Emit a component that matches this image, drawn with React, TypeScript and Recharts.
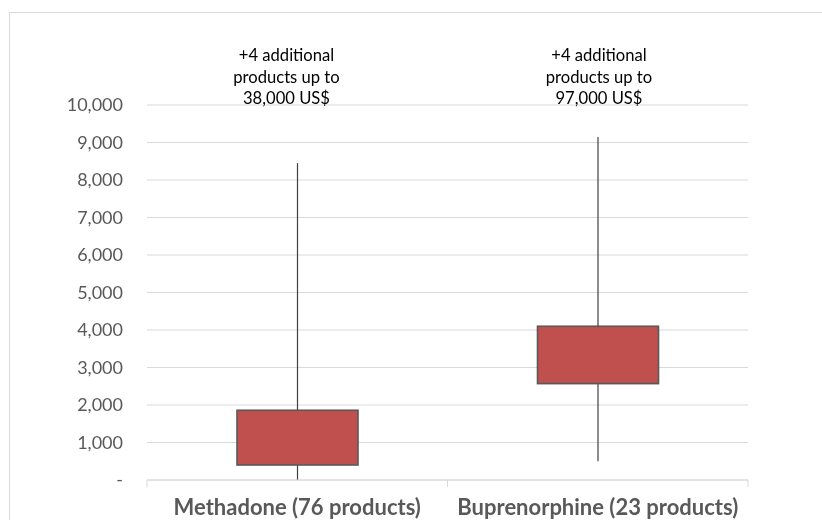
import React from 'react';
import { ComposedChart, Bar, XAxis, YAxis, CartesianGrid } from 'recharts';

const categories = ['Methadone (76 products)', 'Buprenorphine (23 products)'];
const minValues = [0, 500];
const q1Values = [400, 2570];
const q3Values = [1860, 4100];
const maxValues = [8450, 9150];
const yTicks = [0, 1000, 2000, 3000, 4000, 5000, 6000, 7000, 8000, 9000, 10000];
const annotations = [
  ['+4 additional', 'products up to', '38,000 US$'],
  ['+4 additional', 'products up to', '97,000 US$'],
];

const data = categories.map((name, i) => ({
  name,
  base: minValues[i],
  lower: q1Values[i] - minValues[i],
  box: q3Values[i] - q1Values[i],
  upper: maxValues[i] - q3Values[i],
}));

const FONT = 'Lato, "Open Sans", sans-serif';

const Empty = () => <g />;

const LowerWhisker = (props: any) => {
  const { x, y, width, height } = props;
  const cx = x + width / 2;
  return <line x1={cx} x2={cx} y1={y} y2={y + height} stroke="#404040" strokeWidth={1.2} />;
};

const BoxShape = (props: any) => {
  const { x, y, width, height } = props;
  return (
    <rect x={x} y={y} width={width} height={height} fill="#C0504D" stroke="#595959" strokeWidth={1.6} />
  );
};

const UpperWhisker = (props: any) => {
  const { x, y, width, height, index } = props;
  const cx = x + width / 2;
  const lines = annotations[index] || [];
  const tx = cx + (index === 0 ? -11 : 1);
  return (
    <g>
      <line x1={cx} x2={cx} y1={y} y2={y + height} stroke="#404040" strokeWidth={1.2} />
      {lines.map((t, i) => (
        <text key={i} x={tx} y={52.7 + i * 21.8} textAnchor="middle" fontFamily={FONT} fontSize={16.6} fill="#000">
          {t}
        </text>
      ))}
    </g>
  );
};

const CatTick = (props: any) => {
  const { x, y, payload, width, visibleTicksCount } = props;
  const half = typeof width === 'number' && visibleTicksCount ? width / visibleTicksCount / 2 : 150.25;
  return (
    <g>
      <line x1={x - half} x2={x - half} y1={y} y2={y + 7} stroke="#d9d9d9" strokeWidth={1} />
      <line x1={x + half} x2={x + half} y1={y} y2={y + 7} stroke="#d9d9d9" strokeWidth={1} />
      <text x={x} y={y + 35} textAnchor="middle" fontFamily={FONT} fontWeight={700} fontSize={22} fill="#595959">
        {payload.value}
      </text>
    </g>
  );
};

const fmt = (v: number) => (v === 0 ? '-' : v.toLocaleString('en-US'));

export default function App() {
  return (
    <div style={{ position: 'relative', width: 806, height: 512, background: '#fff' }}>
      <div
        style={{
          position: 'fixed',
          left: 9,
          top: 12,
          width: 900,
          height: 600,
          border: '1px solid #d9d9d9',
          pointerEvents: 'none',
        }}
      />
      <ComposedChart
        width={806}
        height={512}
        data={data}
        margin={{ top: 97, right: 66, bottom: 0, left: 0 }}
      >
        <CartesianGrid vertical={false} stroke="#d9d9d9" strokeWidth={1} />
        <XAxis
          dataKey="name"
          height={40}
          axisLine={{ stroke: '#d9d9d9', strokeWidth: 1 }}
          tickLine={false}
          tickSize={0}
          tickMargin={0}
          tick={<CatTick />}
          interval={0}
        />
        <YAxis
          width={139}
          domain={[0, 10000]}
          ticks={yTicks}
          axisLine={false}
          tickLine={false}
          tickSize={0}
          tickMargin={24}
          tickFormatter={fmt}
          tick={{ fontFamily: FONT, fontSize: 18, fill: '#595959' }}
          interval={0}
        />
        <Bar dataKey="base" stackId="a" barSize={121} shape={<Empty />} isAnimationActive={false} />
        <Bar dataKey="lower" stackId="a" barSize={121} shape={<LowerWhisker />} isAnimationActive={false} />
        <Bar dataKey="box" stackId="a" barSize={121} shape={<BoxShape />} isAnimationActive={false} />
        <Bar dataKey="upper" stackId="a" barSize={121} shape={<UpperWhisker />} isAnimationActive={false} />
      </ComposedChart>
    </div>
  );
}
